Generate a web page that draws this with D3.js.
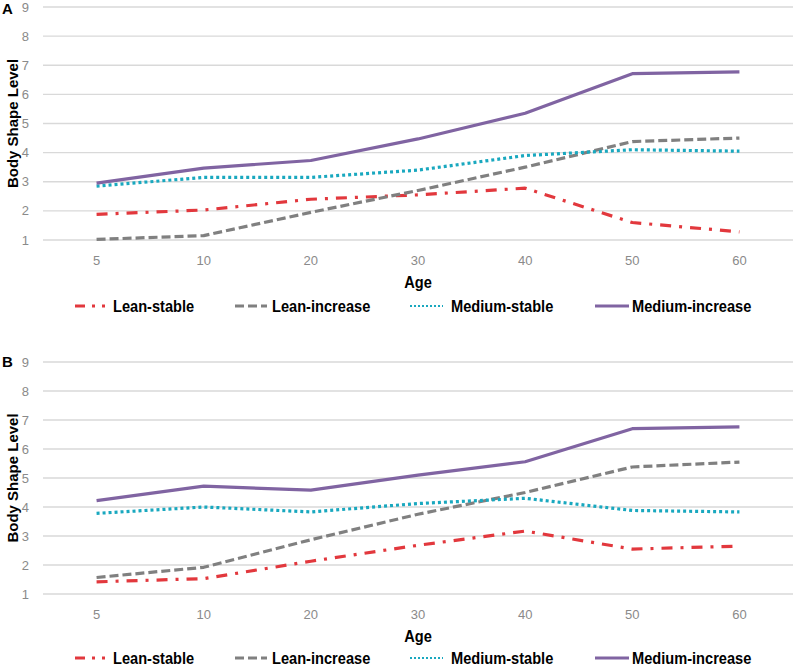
<!DOCTYPE html>
<html lang="en">
<head>
    <meta charset="UTF-8">
    <title>Body Shape Trajectories</title>
    <script src="https://d3js.org/d3.v7.min.js"></script>
    <style>
        body { margin: 0; background: #fff; }
        .tick-label { font-family: "Liberation Sans", Arial, sans-serif; font-size: 13px; fill: #8a8a8a; }
        .axis-title { font-family: "Liberation Sans", Arial, sans-serif; font-weight: bold; font-size: 15px; fill: #000; }
        .narrow { font-family: "Liberation Sans", Arial, sans-serif; font-weight: bold; font-size: 17px; fill: #000; }
        .panel-label { font-family: "Liberation Sans", Arial, sans-serif; font-weight: bold; font-size: 15px; fill: #000; }
    </style>
</head>
<body>
    <svg width="795" height="666"></svg>

    <script>
        // Categories and tick labels
        const ages = ["5", "10", "20", "30", "40", "50", "60"];
        const yTicks = [1, 2, 3, 4, 5, 6, 7, 8, 9];
        const seriesNames = ["Lean-stable", "Lean-increase", "Medium-stable", "Medium-increase"];

        // Panel A values
        const leanStableA     = [1.88, 2.03, 2.40, 2.55, 2.78, 1.60, 1.28];
        const leanIncreaseA   = [1.02, 1.15, 1.95, 2.70, 3.50, 4.38, 4.50];
        const mediumStableA   = [2.85, 3.15, 3.15, 3.40, 3.90, 4.10, 4.05];
        const mediumIncreaseA = [2.95, 3.47, 3.73, 4.47, 5.35, 6.71, 6.77];

        // Panel B values
        const leanStableB     = [1.42, 1.53, 2.13, 2.68, 3.17, 2.55, 2.65];
        const leanIncreaseB   = [1.57, 1.92, 2.87, 3.75, 4.50, 5.38, 5.55];
        const mediumStableB   = [3.78, 4.00, 3.83, 4.12, 4.30, 3.88, 3.83];
        const mediumIncreaseB = [4.22, 4.72, 4.58, 5.10, 5.56, 6.70, 6.76];

        // Line styles per series
        const styles = [
            {color: "#e2383d", width: 3.2, dash: "11,8,3,8"},
            {color: "#808080", width: 3.2, dash: "9,4"},
            {color: "#19a8bf", width: 3.2, dash: "3,3"},
            {color: "#8064a2", width: 3.2, dash: null}
        ];

        const svg = d3.select("svg");

        const x = d3.scaleBand()
            .domain(ages)
            .range([43, 793])
            .padding(0);

        // bold text squeezed horizontally, to look like a narrow face
        function narrowText(g, tx, ty, str, anchor) {
            return g.append("text")
                .attr("class", "narrow")
                .attr("transform", `translate(${tx},${ty}) scale(0.86,1)`)
                .attr("dy", "0.35em")
                .attr("text-anchor", anchor || "start")
                .text(str);
        }

        function drawPanel(label, top, bottom, seriesValues) {
            const g = svg.append("g");
            const y = d3.scaleLinear().domain([1, 9]).range([bottom, top]);

            // gridlines
            g.selectAll(".grid")
                .data(yTicks)
                .enter().append("line")
                .attr("x1", 43).attr("x2", 793)
                .attr("y1", d => y(d)).attr("y2", d => y(d))
                .attr("stroke", "#d9d9d9")
                .attr("stroke-width", 1.3);

            // y tick labels
            g.selectAll(".ylab")
                .data(yTicks)
                .enter().append("text")
                .attr("class", "tick-label")
                .attr("x", 29)
                .attr("y", d => y(d))
                .attr("dy", "0.35em")
                .attr("text-anchor", "end")
                .text(d => d);

            // x tick labels
            g.selectAll(".xlab")
                .data(ages)
                .enter().append("text")
                .attr("class", "tick-label")
                .attr("x", d => x(d) + x.bandwidth() / 2)
                .attr("y", bottom + 20)
                .attr("dy", "0.35em")
                .attr("text-anchor", "middle")
                .text(d => d);

            // x axis title
            narrowText(g, 418, bottom + 42, "Age", "middle");

            // y axis title
            g.append("text")
                .attr("class", "axis-title")
                .attr("transform", `translate(13,${(top + bottom) / 2}) rotate(-90)`)
                .attr("dy", "0.35em")
                .attr("text-anchor", "middle")
                .text("Body Shape Level");

            // panel label
            g.append("text")
                .attr("class", "panel-label")
                .attr("x", 2)
                .attr("y", Math.max(top, 9))
                .attr("dy", "0.35em")
                .text(label);

            const line = d3.line()
                .x((d, i) => x(ages[i]) + x.bandwidth() / 2)
                .y(d => y(d));

            seriesValues.forEach((vals, k) => {
                const s = styles[k];
                g.append("path")
                    .datum(vals)
                    .attr("d", line)
                    .attr("fill", "none")
                    .attr("stroke", s.color)
                    .attr("stroke-width", s.width)
                    .attr("stroke-linejoin", "round")
                    .attr("stroke-dasharray", s.dash);
            });

            // legend
            const legendY = Math.min(bottom + 66, 658);
            const swatchX = [75, 235, 410, 595];
            const swatchW = [35, 32, 33, 34];
            const textX = [113, 272, 451, 632];
            seriesNames.forEach((name, k) => {
                const s = styles[k];
                g.append("line")
                    .attr("x1", swatchX[k]).attr("x2", swatchX[k] + swatchW[k])
                    .attr("y1", legendY).attr("y2", legendY)
                    .attr("stroke", s.color)
                    .attr("stroke-width", k === 2 ? 2.2 : 3.2)
                    .attr("stroke-dasharray", k === 0 ? "10,7,3,7,3,7" : (k === 2 ? "2,2" : s.dash));
                narrowText(g, textX[k], legendY, name);
            });
        }

        drawPanel("A", 7, 240, [leanStableA, leanIncreaseA, mediumStableA, mediumIncreaseA]);
        drawPanel("B", 362, 594, [leanStableB, leanIncreaseB, mediumStableB, mediumIncreaseB]);
    </script>
</body>
</html>
